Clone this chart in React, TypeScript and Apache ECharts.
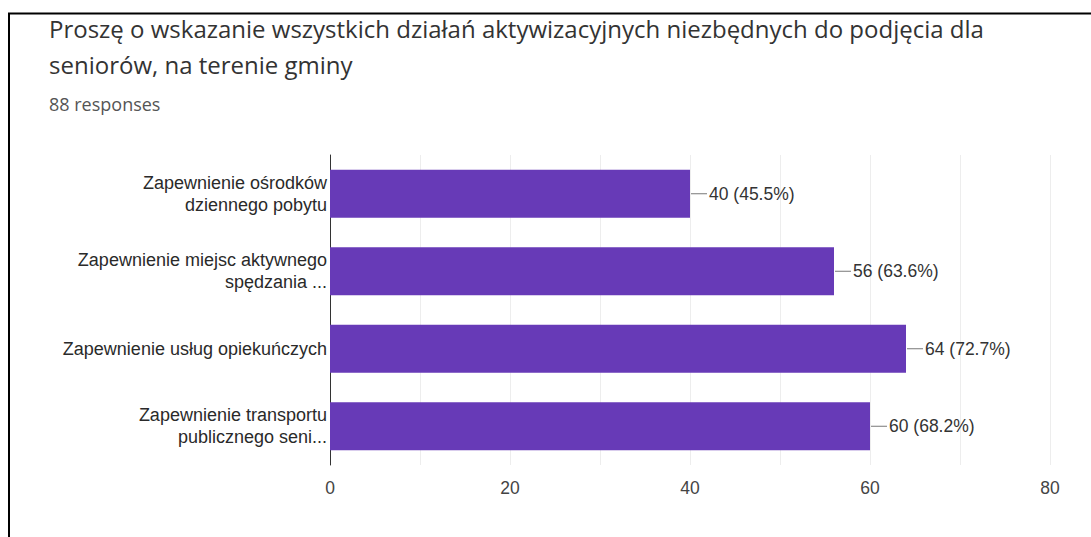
import React, { useEffect, useRef } from "react";
import * as echarts from "echarts";

const categories = [
  "Zapewnienie ośrodków\ndziennego pobytu",
  "Zapewnienie miejsc aktywnego\nspędzania ...",
  "Zapewnienie usług opiekuńczych",
  "Zapewnienie transportu\npublicznego seni...",
];
const values = [40, 56, 64, 60];
const percents = ["45.5%", "63.6%", "72.7%", "68.2%"];
const titleLines = [
  "Proszę o wskazanie wszystkich działań aktywizacyjnych niezbędnych do podjęcia dla",
  "seniorów, na terenie gminy",
];
const subtitle = "88 responses";

export default function App() {
  const ref = useRef<HTMLDivElement>(null);
  useEffect(() => {
    const chart = echarts.init(ref.current!, null, { renderer: "svg" });
    chart.setOption({
      animation: false,
      backgroundColor: "#ffffff",
      title: {
        text: titleLines.join("\n"),
        subtext: subtitle,
        left: 44,
        top: 5,
        itemGap: 13,
        textStyle: {
          fontFamily: "Open Sans",
          fontSize: 24,
          fontWeight: "normal",
          color: "#333333",
          lineHeight: 36,
        },
        subtextStyle: {
          fontFamily: "Open Sans",
          fontSize: 18,
          color: "#555555",
        },
      },
      graphic: [
        { type: "line", shape: { x1: 8, y1: 13.5, x2: 1091, y2: 13.5 }, style: { stroke: "#000", lineWidth: 2 } },
        { type: "line", shape: { x1: 9, y1: 13, x2: 9, y2: 537 }, style: { stroke: "#000", lineWidth: 2 } },
      ],
      grid: { left: 330, right: 41, top: 155, bottom: 72, containLabel: false },
      xAxis: {
        type: "value",
        min: 0,
        max: 80,
        interval: 10,
        axisLine: { show: false },
        axisTick: { show: false },
        splitLine: { show: true, lineStyle: { color: "#ededed", width: 1 } },
        axisLabel: {
          formatter: (v: number) => (v % 20 === 0 ? String(v) : ""),
          fontFamily: "Liberation Sans, Arial",
          fontSize: 17.5,
          color: "#444444",
          margin: 14,
        },
      },
      yAxis: {
        type: "category",
        data: categories,
        inverse: true,
        axisLine: { show: true, lineStyle: { color: "#333333", width: 1 } },
        axisTick: { show: false },
        axisLabel: {
          fontFamily: "Liberation Sans, Arial",
          fontSize: 18,
          color: "#2a2a2a",
          lineHeight: 22,
          margin: 3,
          align: "right",
        },
      },
      series: [
        {
          type: "bar",
          data: values,
          barCategoryGap: "38%",
          itemStyle: { color: "#673ab7" },
          label: {
            show: true,
            position: "right",
            distance: 1,
            formatter: (p: any) => `{l|}{t|${p.value} (${percents[p.dataIndex]})}`,
            rich: {
              l: { width: 16, height: 1, backgroundColor: "#777777" },
              t: {
                fontFamily: "Liberation Sans, Arial",
                fontSize: 17.5,
                color: "#333333",
                padding: [0, 0, 0, 2],
              },
            },
          },
        },
      ],
    });
    return () => chart.dispose();
  }, []);
  return (
    <div
      ref={ref}
      style={{ position: "fixed", left: 0, top: 0, width: 1091, height: 537 }}
    />
  );
}
